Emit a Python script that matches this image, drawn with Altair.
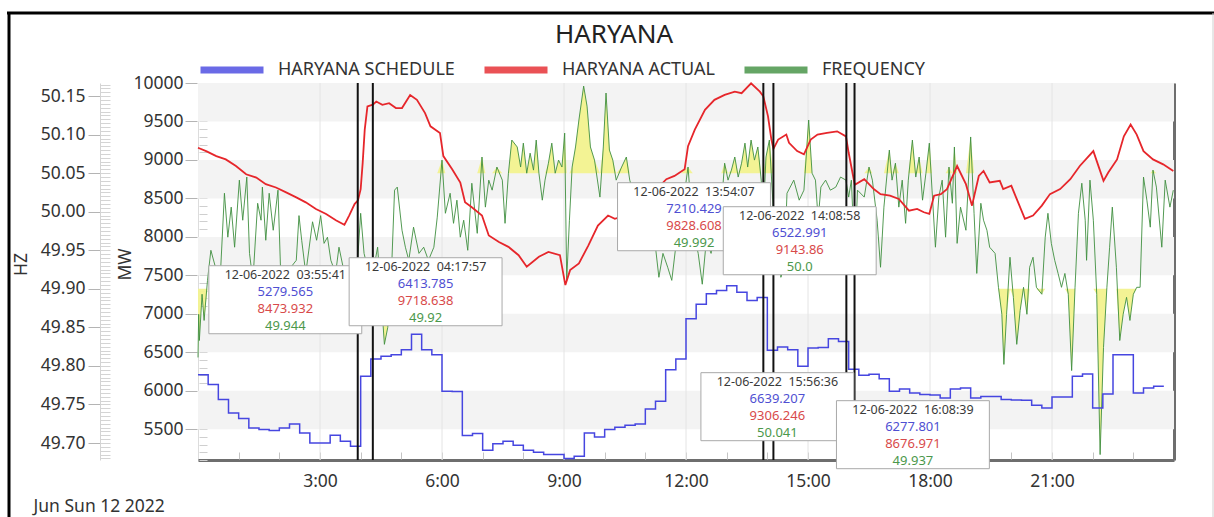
import altair as alt
import pandas as pd

# ---------------- data ----------------
# Grid frequency (Hz), clock time of each reading
FREQ_TIME = [
    "0:00", "0:01", "0:02", "0:06", "0:09", "0:14", "0:19", "0:27", "0:32", "0:39",
    "0:44", "0:49", "0:54", "1:01", "1:06", "1:12", "1:16", "1:21", "1:28", "1:33",
    "1:35", "1:40", "1:45", "1:51", "1:58", "2:02", "2:10", "2:17", "2:25", "2:29",
    "2:33", "2:39", "2:49", "2:55", "3:01", "3:06", "3:11", "3:16", "3:23", "3:28",
    "3:36", "3:43", "3:51", "3:56", "4:00", "4:05", "4:10", "4:18", "4:25", "4:30",
    "4:35", "4:40", "4:45", "4:50", "4:54", "5:01", "5:06", "5:11", "5:18", "5:26",
    "5:33", "5:40", "5:48", "5:53", "6:00", "6:05", "6:12", "6:17", "6:22", "6:27",
    "6:32", "6:38", "6:44", "6:52", "6:59", "7:04", "7:09", "7:14", "7:21", "7:29",
    "7:33", "7:38", "7:43", "7:51", "7:56", "8:00", "8:05", "8:10", "8:15", "8:19",
    "8:23", "8:28", "8:32", "8:37", "8:42", "8:47", "8:52", "8:57", "9:01", "9:04",
    "9:08", "9:12", "9:17", "9:22", "9:29", "9:34", "9:39", "9:45", "9:53", "9:58",
    "10:02", "10:07", "10:12", "10:17", "10:25", "10:32", "10:37", "10:49", "11:01", "11:11",
    "11:20", "11:26", "11:33", "11:39", "11:46", "11:53", "12:03", "12:10", "12:18", "12:24",
    "12:30", "12:37", "12:45", "12:52", "12:57", "13:02", "13:07", "13:12", "13:17", "13:22",
    "13:27", "13:31", "13:36", "13:41", "13:46", "13:51", "13:54", "13:58", "14:03", "14:09",
    "14:13", "14:20", "14:25", "14:29", "14:39", "14:47", "14:54", "15:01", "15:06", "15:11",
    "15:15", "15:19", "15:26", "15:33", "15:41", "15:48", "15:56", "16:00", "16:04", "16:09",
    "16:13", "16:23", "16:30", "16:35", "16:42", "16:47", "16:52", "17:00", "17:04", "17:09",
    "17:14", "17:19", "17:24", "17:28", "17:34", "17:39", "17:44", "17:49", "17:54", "17:59",
    "18:03", "18:08", "18:13", "18:18", "18:23", "18:28", "18:33", "18:36", "18:40", "18:45",
    "18:53", "19:00", "19:05", "19:09", "19:15", "19:19", "19:24", "19:28", "19:36", "19:41",
    "19:46", "19:49", "19:53", "19:58", "20:03", "20:08", "20:13", "20:18", "20:23", "20:27",
    "20:32", "20:37", "20:45", "20:50", "20:54", "20:59", "21:04", "21:09", "21:14", "21:19",
    "21:24", "21:29", "21:34", "21:39", "21:44", "21:49", "21:51", "21:56", "22:01", "22:06",
    "22:11", "22:16", "22:21", "22:25", "22:29", "22:35", "22:40", "22:45", "22:50", "22:55",
    "23:00", "23:05", "23:10", "23:15", "23:20", "23:25", "23:29", "23:34", "23:42", "23:47",
    "23:54", "23:59",
]
FREQ_HZ = [
    49.811, 49.867, 49.833, 49.893, 49.859, 49.911, 49.950, 49.924, 49.900, 50.024,
    49.967, 50.006, 49.954, 50.041, 49.989, 50.045, 49.946, 49.911, 50.011, 49.989,
    50.032, 49.963, 50.024, 49.976, 50.028, 49.920, 49.911, 49.928, 49.937, 49.995,
    49.963, 49.920, 49.987, 49.963, 49.995, 49.959, 49.967, 49.937, 49.920, 49.954,
    49.920, 49.928, 49.911, 49.944, 49.998, 49.946, 49.928, 49.920, 49.954, 49.893,
    49.828, 49.850, 49.911, 50.028, 50.032, 49.976, 49.954, 49.937, 49.980, 49.946,
    49.954, 49.937, 49.954, 49.993, 50.067, 49.998, 50.024, 49.985, 50.015, 49.967,
    49.989, 49.950, 50.037, 49.972, 50.071, 50.006, 50.041, 50.028, 50.058, 50.041,
    49.985, 50.050, 50.093, 50.084, 50.058, 50.089, 50.050, 50.076, 50.054, 50.093,
    50.050, 50.015, 50.041, 50.063, 50.089, 50.050, 50.067, 50.058, 50.102, 49.911,
    49.989, 50.058, 50.084, 50.119, 50.163, 50.137, 50.084, 50.067, 50.019, 50.084,
    50.154, 50.080, 50.067, 50.041, 50.058, 50.071, 50.041, 50.006, 49.967, 49.985,
    49.915, 49.946, 49.928, 49.911, 49.963, 49.993, 50.058, 49.976, 49.946, 49.906,
    49.963, 49.946, 49.985, 50.006, 50.063, 50.041, 50.054, 50.071, 50.045, 50.063,
    50.089, 50.058, 50.093, 50.067, 50.084, 50.041, 49.992, 50.071, 50.093, 50.000,
    49.980, 49.915, 49.928, 50.024, 50.041, 50.015, 50.028, 50.119, 50.050, 50.041,
    49.990, 50.032, 50.041, 50.028, 50.032, 50.045, 50.041, 50.019, 50.041, 49.937,
    50.028, 50.019, 50.058, 50.041, 49.989, 49.928, 50.006, 50.080, 50.041, 50.063,
    50.006, 50.041, 49.985, 50.041, 50.093, 50.045, 50.071, 50.015, 50.050, 50.089,
    50.028, 49.954, 50.019, 50.041, 49.967, 50.058, 50.011, 50.084, 49.959, 50.006,
    49.976, 50.097, 49.998, 49.920, 50.011, 49.989, 49.976, 49.954, 49.946, 49.902,
    49.867, 49.802, 49.867, 49.941, 49.889, 49.828, 49.872, 49.902, 49.867, 49.928,
    49.941, 49.902, 49.893, 49.967, 49.998, 49.959, 49.937, 49.920, 49.902, 49.920,
    49.893, 49.794, 49.902, 49.998, 50.037, 49.989, 49.937, 50.041, 49.989, 49.893,
    49.685, 49.824, 49.902, 49.954, 50.006, 49.928, 49.833, 49.867, 49.889, 49.859,
    49.893, 49.902, 49.902, 50.045, 50.015, 49.980, 50.054, 50.032, 49.954, 50.041,
    50.006, 50.028,
]

# Actual drawal (MW)
ACTUAL_TIME = [
    "0:00", "0:12", "0:27", "0:41", "0:56", "1:11", "1:26", "1:40", "1:55", "2:10",
    "2:25", "2:39", "2:54", "3:09", "3:24", "3:36", "3:43", "3:51", "3:56", "4:00",
    "4:03", "4:06", "4:10", "4:18", "4:23", "4:32", "4:42", "4:52", "5:01", "5:13",
    "5:23", "5:35", "5:43", "5:57", "6:02", "6:15", "6:27", "6:34", "6:44", "6:59",
    "7:09", "7:24", "7:38", "7:53", "8:05", "8:23", "8:37", "8:54", "9:02", "9:09",
    "9:22", "9:36", "9:50", "10:05", "10:15", "10:45", "11:10", "11:31", "11:43", "11:58",
    "12:03", "12:13", "12:28", "12:42", "12:57", "13:12", "13:22", "13:36", "13:49", "13:54",
    "14:01", "14:06", "14:09", "14:16", "14:28", "14:32", "14:44", "14:54", "15:04", "15:14",
    "15:28", "15:43", "15:56", "16:00", "16:09", "16:23", "16:37", "16:47", "17:01", "17:14",
    "17:29", "17:41", "17:51", "17:59", "18:06", "18:16", "18:25", "18:40", "18:53", "19:02",
    "19:12", "19:19", "19:28", "19:43", "19:48", "20:00", "20:10", "20:20", "20:32", "20:45",
    "20:57", "21:12", "21:27", "21:41", "22:01", "22:16", "22:23", "22:36", "22:46", "22:56",
    "23:05", "23:15", "23:29", "23:44", "23:59",
]
ACTUAL_MW = [
    9158, 9115, 9050, 9007, 8921, 8814, 8771, 8685, 8642, 8578,
    8514, 8449, 8363, 8298, 8212, 8157, 8277, 8427, 8474, 8621,
    8965, 9394, 9695, 9719, 9759, 9716, 9738, 9674, 9674, 9845,
    9781, 9609, 9437, 9351, 9050, 8879, 8707, 8449, 8385, 8277,
    8019, 7934, 7870, 7762, 7612, 7741, 7805, 7762, 7374, 7568,
    7654, 7890, 8148, 8277, 8234, 8320, 8560, 8750, 8792, 8879,
    9179, 9394, 9652, 9781, 9845, 9888, 9867, 9996, 9888, 9829,
    9566, 9265, 9144, 9265, 9330, 9222, 9115, 9072, 9265, 9330,
    9351, 9372, 9306, 9093, 8677, 8750, 8621, 8556, 8535, 8492,
    8341, 8363, 8320, 8298, 8535, 8556, 8621, 8921, 8685, 8406,
    8792, 8857, 8707, 8728, 8621, 8664, 8449, 8234, 8277, 8406,
    8556, 8621, 8750, 8921, 9115, 8728, 8836, 9007, 9308, 9459,
    9330, 9115, 9007, 8943, 8857,
]

# Schedule (MW), one value per 15-minute block from 00:00
SCHEDULE_MW = [
    6209, 6080, 5885, 5712, 5638, 5517, 5496, 5483, 5517, 5569, 5452, 5322,
    5322, 5422, 5344, 5280, 6187, 6414, 6447, 6468, 6533, 6736, 6533, 6468,
    5993, 5990, 5418, 5444, 5228, 5310, 5344, 5292, 5228, 5202, 5171, 5171,
    5118, 5150, 5452, 5400, 5496, 5526, 5552, 5569, 5763, 5863, 6274, 6412,
    6936, 7125, 7260, 7303, 7364, 7281, 7173, 7212, 6525, 6568, 6534, 6320,
    6555, 6563, 6676, 6639, 6278, 6200, 6213, 6157, 5993, 6023, 5971, 5950,
    5945, 5906, 6023, 6036, 5906, 5924, 5924, 5885, 5880, 5876, 5811, 5776,
    5919, 5919, 6187, 6217, 5776, 5958, 6469, 6469, 5971, 6036, 6058,
]
BLOCK_HOURS = 0.25

# Cursor readouts
CURSOR_TIME = ["03:55:41", "04:17:57", "13:54:07", "14:08:58", "15:56:36", "16:08:39"]
CURSOR_SCHEDULE = [5279.565, 6413.785, 7210.429, 6522.991, 6639.207, 6277.801]
CURSOR_ACTUAL = [8473.932, 9718.638, 9828.608, 9143.86, 9306.246, 8676.971]
CURSOR_FREQ = [49.944, 49.92, 49.992, 50.0, 50.041, 49.937]
CURSOR_DATE = "12-06-2022"

# Readout box placement: left edge (clock time) and top edge (MW)
BOX_LEFT = ["0:16", "3:43", "10:19", "12:55", "12:22", "15:42"]
BOX_TOP = [7625, 7729, 8704, 8392, 6235, 5871]
BOX_SPAN_H = 3.76
BOX_SPAN_MW = 884

MW_TICKS = [5500, 6000, 6500, 7000, 7500, 8000, 8500, 9000, 9500, 10000]
HZ_TICKS = [49.70, 49.75, 49.80, 49.85, 49.90, 49.95, 50.00, 50.05, 50.10, 50.15]
HOUR_LABELS = [3, 6, 9, 12, 15, 18, 21]
BAND_LOW = [5500, 6500, 7500, 8500, 9500]
BAND_HIGH = [6000, 7000, 8000, 9000, 10000]
HZ_UPPER_LIMIT = 50.05
HZ_LOWER_LIMIT = 49.90

TITLE = "HARYANA"
SERIES = ["HARYANA SCHEDULE", "HARYANA ACTUAL", "FREQUENCY"]
COLORS = ["#4646e0", "#e6262b", "#3f8f3f"]


def hours(t):
    p = [int(v) for v in t.split(":")]
    return p[0] + p[1] / 60 + (p[2] / 3600 if len(p) > 2 else 0)


# ---------------- frames ----------------
freq = pd.DataFrame({"h": [hours(t) for t in FREQ_TIME], "hz": FREQ_HZ, "series": SERIES[2]})
actual = pd.DataFrame({"h": [hours(t) for t in ACTUAL_TIME], "mw": ACTUAL_MW, "series": SERIES[1]})
sched_h = [i * BLOCK_HOURS for i in range(len(SCHEDULE_MW))] + [len(SCHEDULE_MW) * BLOCK_HOURS]
sched = pd.DataFrame({"h": sched_h, "mw": SCHEDULE_MW + [SCHEDULE_MW[-1]], "series": SERIES[0]})
bands = pd.DataFrame({"lo": BAND_LOW, "hi": BAND_HIGH})
grid = pd.DataFrame({"h": HOUR_LABELS})
cur = pd.DataFrame({"h": [hours(t) for t in CURSOR_TIME]})
left = [hours(t) for t in BOX_LEFT]
tips = pd.DataFrame({
    "left": left,
    "right": [v + BOX_SPAN_H for v in left],
    "cx": [v + BOX_SPAN_H / 2 for v in left],
    "top": BOX_TOP,
    "bottom": [v - BOX_SPAN_MW for v in BOX_TOP],
    "stamp": [CURSOR_DATE + "\u00a0 " + t for t in CURSOR_TIME],
    "s": [str(v) for v in CURSOR_SCHEDULE],
    "a": [str(v) for v in CURSOR_ACTUAL],
    "f": [str(v) for v in CURSOR_FREQ],
})
one = pd.DataFrame({"k": [0]})
heading = pd.DataFrame({"t": [TITLE]})

# ---------------- styling ----------------
W, H = 976, 377
FONT = "Noto Sans"
TXT = "#333333"
LAB = 17.5
xs = alt.Scale(domain=[0, 24], nice=False, zero=False)
mws = alt.Scale(domain=[5100, 10000], nice=False, zero=False)
hzs = alt.Scale(domain=[49.678, 50.167], nice=False, zero=False)
cscale = alt.Scale(domain=SERIES, range=COLORS)
legend = alt.Legend(
    orient="none", legendX=-1, legendY=-48, direction="horizontal", title=None,
    symbolType="stroke", symbolSize=3969, symbolStrokeWidth=7, symbolOpacity=0.8,
    labelFont=FONT, labelFontSize=18, labelColor=TXT, labelOffset=11, labelLimit=400,
    columnPadding=15, padding=0,
)

ax_mw = alt.Axis(
    orient="left", offset=1, values=MW_TICKS, format="d", tickSize=12, tickColor="#b4b4b4",
    domain=False, grid=False, labelFont=FONT, labelFontSize=LAB, labelColor=TXT,
    labelPadding=2, labelFlush=False, labelOverlap=False,
    title="MW", titleFont=FONT, titleFontSize=LAB, titleFontWeight="normal", titleColor=TXT,
    titleX=-72, titleY=181, titleAngle=270, titleAlign="center", titleBaseline="middle",
)
ax_mw_minor = alt.Axis(
    orient="left", offset=-9, values=[5100 + 100 * i for i in range(50)], tickSize=8,
    tickColor="#cfcfcf", domain=False, grid=False, labels=False, title=None,
)
ax_hz = alt.Axis(
    orient="left", offset=98, values=HZ_TICKS, format=".2f", tickSize=12, tickColor="#b4b4b4",
    domain=True, domainColor="#d4d4d4", grid=False, labelFont=FONT, labelFontSize=LAB,
    labelColor=TXT, labelPadding=3, labelFlush=False, labelOverlap=False,
    title="HZ", titleFont=FONT, titleFontSize=LAB, titleFontWeight="normal", titleColor=TXT,
    titleX=-79, titleY=181, titleAngle=270, titleAlign="center", titleBaseline="middle",
)
ax_hz_minor = alt.Axis(
    orient="left", offset=88, values=[round(49.68 + 0.005 * i, 3) for i in range(98)],
    tickSize=10, tickColor="#d4d4d4", domain=False, grid=False, labels=False, title=None,
)
ax_x = alt.Axis(
    orient="bottom", values=HOUR_LABELS, labelExpr="datum.value + ':00'", ticks=False,
    domain=True, domainColor="#6e6e6e", domainWidth=3, grid=False,
    labelFont=FONT, labelFontSize=LAB, labelColor=TXT, labelPadding=12,
    labelFlush=False, labelOverlap=False,
    title="Jun Sun 12 2022", titleFont=FONT, titleFontSize=LAB, titleFontWeight="normal",
    titleColor=TXT, titleX=-165, titleY=46, titleAngle=0, titleAlign="left",
    titleBaseline="middle",
)
ax_x_minor = alt.Axis(
    orient="bottom", offset=-8, values=list(range(1, 24)), tickSize=7, tickColor="#c4c4c4",
    domain=False, grid=False, labels=False, title=None,
)
ax_right = alt.Axis(
    orient="right", domain=True, domainColor="#6e6e6e", domainWidth=3, ticks=False,
    labels=False, grid=False, title=None,
)

# ---------------- layers ----------------
frame_top = alt.Chart(one).mark_rule(color="black", strokeWidth=3).encode(
    x=alt.value(-191), x2=alt.value(1016), y=alt.value(-70))
frame_left = alt.Chart(one).mark_rule(color="black", strokeWidth=3).encode(
    x=alt.value(-189), y=alt.value(-71), y2=alt.value(434))
frame_right = alt.Chart(one).mark_rule(color="#d0d0d0", strokeWidth=1).encode(
    x=alt.value(1015), y=alt.value(-70), y2=alt.value(434))

title_layer = alt.Chart(heading).mark_text(
    font=FONT, fontSize=26, color="#222222", align="center", baseline="middle"
).encode(x=alt.value(416), y=alt.value(-48), text="t:N")

band_layer = alt.Chart(bands).mark_rect(color="#f3f3f3").encode(
    y=alt.Y("lo:Q", scale=mws, axis=ax_mw), y2="hi:Q")

grid_layer = alt.Chart(grid).mark_rule(color="#e4e4e4", strokeWidth=1).encode(
    x=alt.X("h:Q", scale=xs, axis=None))

yellow_hi = alt.Chart(freq).transform_calculate(
    v=f"max(datum.hz, {HZ_UPPER_LIMIT})").mark_area(color="#f2f28e", opacity=0.95).encode(
    x=alt.X("h:Q", scale=xs, axis=None),
    y=alt.Y("v:Q", scale=hzs, axis=ax_hz_minor),
    y2=alt.datum(HZ_UPPER_LIMIT))
yellow_lo = alt.Chart(freq).transform_calculate(
    v=f"min(datum.hz, {HZ_LOWER_LIMIT})").mark_area(color="#f2f28e", opacity=0.95).encode(
    x=alt.X("h:Q", scale=xs, axis=None),
    y=alt.Y("v:Q", scale=hzs, axis=None),
    y2=alt.datum(HZ_LOWER_LIMIT))

freq_line = alt.Chart(freq).mark_line(strokeWidth=0.9).encode(
    x=alt.X("h:Q", scale=xs, axis=ax_x),
    y=alt.Y("hz:Q", scale=hzs, axis=ax_hz),
    color=alt.Color("series:N", scale=cscale, legend=legend))

actual_line = alt.Chart(actual).mark_line(strokeWidth=1.8).encode(
    x=alt.X("h:Q", scale=xs, axis=ax_x_minor),
    y=alt.Y("mw:Q", scale=mws, axis=ax_mw_minor),
    color=alt.Color("series:N", scale=cscale, legend=legend))

sched_line = alt.Chart(sched).mark_line(strokeWidth=1.5, interpolate="step-after").encode(
    x=alt.X("h:Q", scale=xs, axis=None),
    y=alt.Y("mw:Q", scale=mws, axis=ax_right),
    color=alt.Color("series:N", scale=cscale, legend=legend))

cursor_layer = alt.Chart(cur).mark_rule(color="#111111", strokeWidth=2).encode(
    x=alt.X("h:Q", scale=xs, axis=None))

box_layer = alt.Chart(tips).mark_rect(fill="white", stroke="#a9a9a9", strokeWidth=1).encode(
    x=alt.X("left:Q", scale=xs, axis=None), x2="right:Q",
    y=alt.Y("top:Q", scale=mws, axis=None), y2="bottom:Q")


def readout(field, color, dy, size):
    return alt.Chart(tips).mark_text(
        font=FONT, fontSize=size, color=color, baseline="middle", align="center", dy=dy
    ).encode(
        x=alt.X("cx:Q", scale=xs, axis=None),
        y=alt.Y("top:Q", scale=mws, axis=None),
        text=f"{field}:N")


chart = alt.layer(
    frame_top, frame_left, frame_right, title_layer,
    band_layer, grid_layer, yellow_hi, yellow_lo, freq_line, actual_line, sched_line,
    cursor_layer, box_layer,
    readout("stamp", "#3a3a3a", 9.5, 12.5),
    readout("s", "#4f4fd2", 26.5, 13),
    readout("a", "#d84a4a", 43.5, 13),
    readout("f", "#4b984b", 60.5, 13),
).resolve_scale(x="independent", y="independent").properties(
    width=W, height=H,
    autosize=alt.AutoSizeParams(type="none"),
    padding={"left": 198, "top": 83, "right": 40, "bottom": 57},
    background="white",
).configure_view(stroke="#dcdcdc", strokeWidth=1)

chart.save("out.html", embed_options={"renderer": "svg", "actions": False})
